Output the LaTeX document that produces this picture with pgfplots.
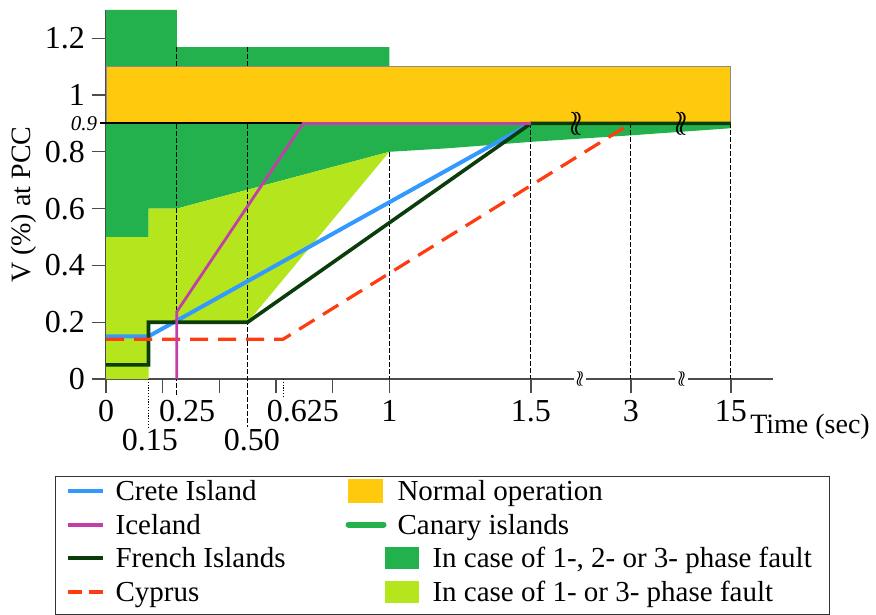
\documentclass[border=0pt]{standalone}
\usepackage{pgfplots}
\pgfplotsset{compat=1.18}
\usepackage{fontspec}
\setmainfont{Liberation Serif}

\definecolor{faultall}{HTML}{22B14C}
\definecolor{faultone}{HTML}{B5E61D}
\definecolor{normalop}{HTML}{FFC90E}
\definecolor{crete}{HTML}{3399FF}
\definecolor{iceland}{HTML}{C23FA8}
\definecolor{french}{HTML}{0B3D0B}
\definecolor{cyprus}{HTML}{FF3B10}

% time axis: linear up to 1.5 s, then 1.5->3 s and 3->15 s squeezed into equal steps
% plot position u: u(3 s)=1.853, u(15 s)=2.206
\pgfplotsset{
  legline/.style={legend image code/.code={\draw[##1] (0pt,4.8pt) -- (17.5pt,4.8pt);}},
  legbox/.style={legend image code/.code={\fill[##1] (0pt,-0.8pt) rectangle (17pt,10.4pt);}},
  legboxin/.style={legend image code/.code={%
    \path[draw=none, fill=none] (0pt,-0.8pt) rectangle (17pt,10.4pt);
    \fill[##1, draw=none, overlay] (18pt,-0.8pt) rectangle (35pt,10.4pt);}},
}
\tikzset{
  guide/.style={black, line width=0.5pt, dash pattern=on 2.5pt off 1pt},
  dguide/.style={black, line width=0.5pt, dash pattern=on 0.6pt off 0.8pt},
}

\begin{document}
\begin{tikzpicture}
\begin{axis}[
  x=141.65pt, y=142pt,
  xmin=0, xmax=2.354, ymin=0, ymax=1.3,
  axis x line=bottom, axis y line=left,
  axis line style={-, draw=black!70, line width=0.6pt},
  tick align=outside, major tick length=7pt,
  every tick/.style={black!70, line width=0.6pt},
  xtick={0,0.2,0.4,0.6,0.8,1,1.5,1.853,2.206},
  xticklabels={0,,,,,1,1.5,3,15},
  ytick={0,0.2,0.4,0.6,0.8,1,1.2},
  yticklabels={0,0.2,0.4,0.6,0.8,1,1.2},
  tick label style={font=\fontsize{16}{18}\selectfont},
  ylabel={V (\%) at PCC},
  ylabel style={font=\fontsize{14}{16}\selectfont, at={(axis description cs:-0.1228,0.472)}, anchor=center},
  xlabel={Time (sec)},
  xlabel style={font=\fontsize{14}{16}\selectfont, at={(axis description cs:1.0557,-0.130)}, anchor=center},
  clip=false,
  legend columns=2,
  legend style={
    at={(axis cs:-0.18,-0.3415)}, anchor=north west,
    draw=black!80, line width=0.6pt,
    font=\fontsize{14.5}{16}\selectfont,
    inner xsep=5pt, inner ysep=1pt,
    row sep=0pt,
    /tikz/every odd column/.append style={column sep=1.5pt},
    /tikz/every even column/.append style={column sep=26pt},
    cells={anchor=base west},
    nodes={inner ysep=0pt, inner xsep=4pt, text height=11pt, text depth=5.8pt},
  },
]
% Canary islands, 1-, 2- or 3-phase fault
\addplot[fill=faultall, draw=none, forget plot] coordinates {
  (0,1.3) (0.25,1.3) (0.25,1.169) (1.0,1.169) (1.0,1.1) (2.206,1.1)
  (2.206,0.883) (1.853,0.858) (1.5,0.835) (1.2,0.812) (1.0,0.8)
  (0.25,0.6) (0.15,0.6) (0.15,0.5) (0,0.5)};
% Canary islands, 1- or 3-phase fault
\addplot[fill=faultone, draw=none, forget plot] coordinates {
  (0,0) (0.15,0) (0.15,0.2) (0.5,0.2) (1.0,0.8) (0.25,0.6) (0.15,0.6) (0.15,0.5) (0,0.5)};

\draw[guide] (axis cs:0.25,1.169) -- (axis cs:0.25,-0.063);
\draw[guide] (axis cs:0.5,1.169) -- (axis cs:0.5,-0.169);

% normal operation band
\addplot[fill=normalop, draw=black!45, line width=0.5pt, forget plot] coordinates {
  (0,0.9) (2.206,0.9) (2.206,1.1) (0,1.1) (0,0.9)};
\draw[black, line width=1pt] (axis cs:-0.021,0.9) -- (axis cs:2.206,0.9);

\draw[guide] (axis cs:1,0.8) -- (axis cs:1,0);
\draw[guide] (axis cs:1.5,0.9) -- (axis cs:1.5,0);
\draw[guide] (axis cs:1.853,0.9) -- (axis cs:1.853,0);
\draw[guide] (axis cs:2.206,0.9) -- (axis cs:2.206,0);
\draw[dguide] (axis cs:0.15,0) -- (axis cs:0.15,-0.169);
\draw[dguide] (axis cs:0.625,0) -- (axis cs:0.625,-0.063);

\addplot[crete, line width=2pt, forget plot] coordinates {(0,0.15) (0.15,0.15) (1.5,0.9)};
\addplot[french, line width=1.8pt, forget plot] coordinates {
  (0,0.05) (0.15,0.05) (0.15,0.2) (0.5,0.2) (1.5,0.9) (2.206,0.9)};
\addplot[cyprus, line width=1.6pt, dash pattern=on 9pt off 5pt, forget plot] coordinates {
  (0,0.14) (0.625,0.14) (1.853,0.9)};
\addplot[iceland, line width=1.4pt, forget plot] coordinates {
  (0.25,0) (0.25,0.237) (0.696,0.9) (1.5,0.9)};

% axis breaks
\node[fill=white, inner xsep=1pt, inner ysep=0pt, font=\fontsize{11}{11}\selectfont] at (axis cs:1.673,0) {$\wr\!\wr$};
\node[fill=white, inner xsep=1pt, inner ysep=0pt, font=\fontsize{11}{11}\selectfont] at (axis cs:2.032,0) {$\wr\!\wr$};
\node[inner sep=0pt, font=\fontsize{17}{17}\selectfont] at (axis cs:1.661,0.9) {$\wr\!\wr$};
\node[inner sep=0pt, font=\fontsize{17}{17}\selectfont] at (axis cs:2.03,0.9) {$\wr\!\wr$};

% extra tick labels
\node[anchor=east, inner sep=0pt, font=\itshape\fontsize{10.5}{12}\selectfont] at (axis cs:-0.03,0.9) {0.9};
\node[anchor=north, yshift=-7pt, font=\fontsize{16}{18}\selectfont] at (axis cs:0.286,0) {0.25};
\node[anchor=north, yshift=-7pt, font=\fontsize{16}{18}\selectfont] at (axis cs:0.695,0) {0.625};
\node[anchor=north, yshift=-21.7pt, font=\fontsize{16}{18}\selectfont] at (axis cs:0.155,0) {0.15};
\node[anchor=north, yshift=-21.7pt, font=\fontsize{16}{18}\selectfont] at (axis cs:0.515,0) {0.50};

\coordinate (bbsw) at (axis cs:-0.3742,-0.8275);
\coordinate (bbne) at (axis cs:2.718,1.3345);

\addlegendimage{legline, crete, line width=2pt}
\addlegendentry{Crete Island}
\addlegendimage{legbox, normalop}
\addlegendentry{Normal operation}
\addlegendimage{legline, iceland, line width=2pt}
\addlegendentry{Iceland}
\addlegendimage{legline, faultall, line width=3pt, line cap=round}
\addlegendentry{Canary islands}
\addlegendimage{legline, french, line width=2pt}
\addlegendentry{French Islands}
\addlegendimage{legboxin, faultall}
\addlegendentry{\hspace{17.5pt}In case of 1-, 2- or 3- phase fault}
\addlegendimage{legline, cyprus, line width=2pt, dash pattern=on 7pt off 3.5pt}
\addlegendentry{Cyprus}
\addlegendimage{legboxin, faultone}
\addlegendentry{\hspace{17.5pt}In case of 1- or 3- phase fault}
\end{axis}
\pgfresetboundingbox
\useasboundingbox (bbsw) rectangle (bbne);
\end{tikzpicture}
\end{document}
